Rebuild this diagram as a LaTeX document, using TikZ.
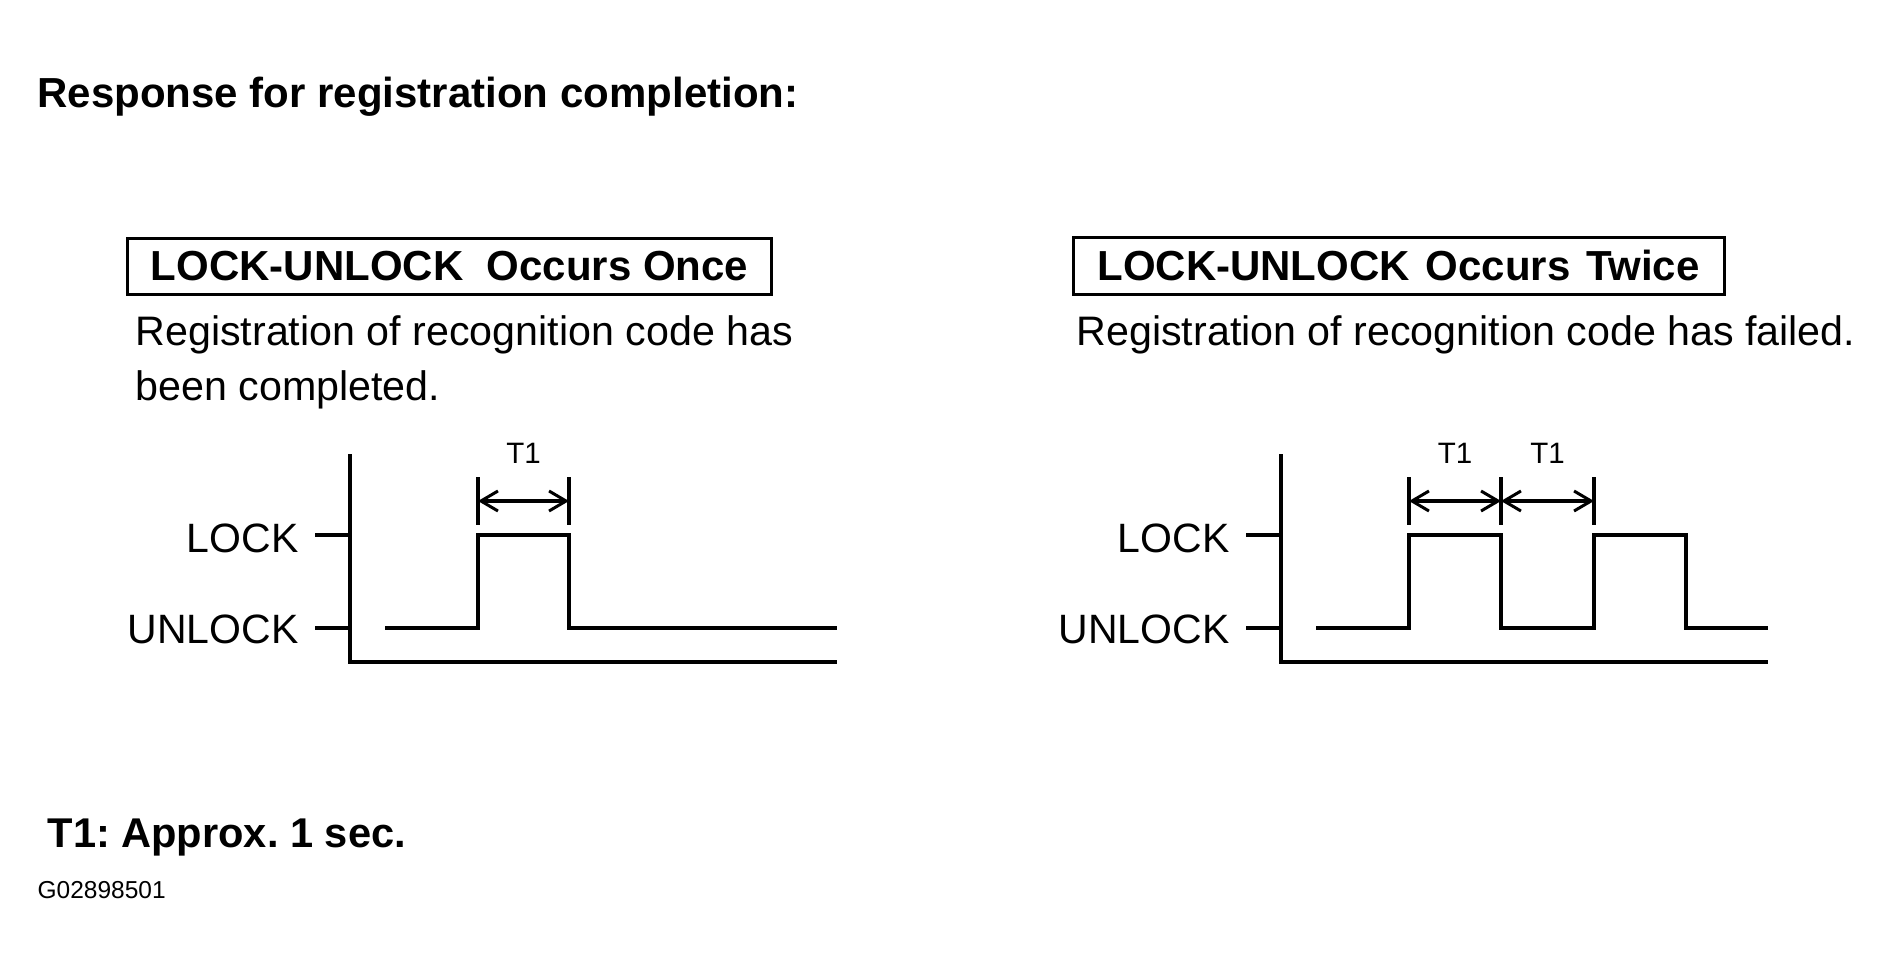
\documentclass[tikz,border=0pt]{standalone}
\usepackage{fontspec}
\setmainfont{Liberation Sans}
\usetikzlibrary{arrows.meta,positioning}

\begin{document}
\frenchspacing
\begin{tikzpicture}[x=1bp,y=-1bp,line width=3.2bp,
	>={Straight Barb[length=17bp,width=20bp,line width=3bp]},
	txt/.style={inner sep=0pt,anchor=base west,font=\fontsize{41.2bp}{55bp}\selectfont},
	head/.style={inner sep=0pt,anchor=base west,font=\bfseries\fontsize{42bp}{48bp}\selectfont},
	boxed/.style={draw,inner sep=0pt,line width=3bp,font=\bfseries\fontsize{42bp}{48bp}\selectfont},
	lvl/.style={inner sep=0pt,anchor=base east,font=\fontsize{41bp}{48bp}\selectfont},
	tlab/.style={inner sep=0pt,anchor=base,font=\fontsize{29.5bp}{34bp}\selectfont}]
\useasboundingbox (0,0) rectangle (1891,974);

\node[head] (title) at (36,107) {Response for registration completion:};

\node[boxed,minimum width=643bp,minimum height=56bp] (onceBox) at (449.5,266) {LOCK-UNLOCK\ \ Occurs Once};
\node[boxed,minimum width=651bp,minimum height=57bp] (twiceBox) at (1398.5,265.5) {LOCK-UNLOCK\hspace{4bp} Occurs\hspace{4bp} Twice};
\node[txt,align=left] (onceTxt) at (134,400) {Registration of recognition code has\\been completed.};
\node[txt] (twiceTxt) at (1075,345) {Registration of recognition code has failed.};

% axes and levels
\foreach \n/\x in {L/350,R/1281}{
	\coordinate (top\n) at (\x,454);
	\coordinate (org\n) at (\x,662);
	\coordinate (end\n) at (\x+487,662);
	\coordinate (hi\n) at (\x,535);
	\coordinate (lo\n) at (\x,628);
	\node[lvl] (lock\n) at (\x-50,552) {LOCK};
	\node[lvl] (unlock\n) at (\x-50,643) {UNLOCK};
	\draw (top\n) -- (org\n) -- (end\n);
	\draw ([xshift=-35bp]hi\n) -- (hi\n);
	\draw ([xshift=-35bp]lo\n) -- (lo\n);
}

% signals
\draw (385,628) -- (478,628) -- (478,535) -- (569,535) -- (569,628) -- (837,628);
\draw (1316,628) -- (1409,628) -- (1409,535) -- (1501,535) -- (1501,628) -- (1594,628)
	-- (1594,535) -- (1686,535) -- (1686,628) -- (1768,628);

% T1 marks
\foreach \n/\x in {a/478,b/569,c/1409,d/1501,e/1594}{
	\coordinate (m\n) at (\x,501);
	\draw (\x,477) -- (\x,525);
}
\draw[<->] (ma) -- (mb) node[tlab,midway,yshift=38bp] (t1a) {T1};
\draw[<->] (mc) -- (md) node[tlab,midway,yshift=38bp] (t1b) {T1};
\draw[<->] (md) -- (me) node[tlab,midway,yshift=38bp] (t1c) {T1};

\node[head,font=\bfseries\fontsize{41.6bp}{48bp}\selectfont] (note) at (46,847) {T1: Approx. 1 sec.};
\node[inner sep=0pt,anchor=base west,font=\fontsize{24.5bp}{28bp}\selectfont] (code) at (36,898) {G02898501};
\end{tikzpicture}
\end{document}
